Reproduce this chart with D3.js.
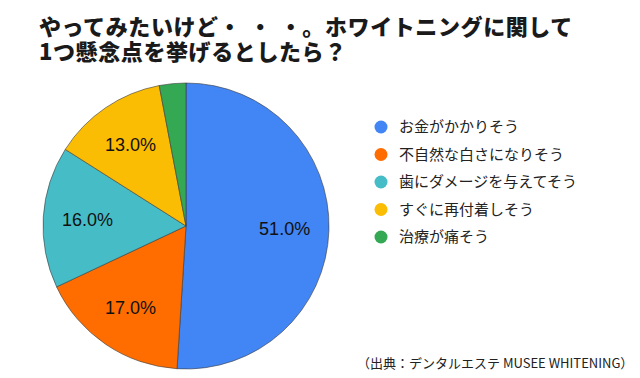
<!DOCTYPE html>
<html><head><meta charset="utf-8">
<script src="https://cdn.jsdelivr.net/npm/d3@7"></script>
<style>
html,body{margin:0;padding:0;background:#fff;}
svg{display:block;}
</style></head>
<body>
<svg id="chart" width="640" height="378"></svg>
<script>
const titleLines = ["やってみたいけど・\u2004・\u2004・。ホワイトニングに関して", "1つ懸念点を挙げるとしたら？"];
const categories = ["お金がかかりそう", "不自然な白さになりそう", "歯にダメージを与えてそう", "すぐに再付着しそう", "治療が痛そう"];
const values = [51, 17, 16, 13, 3];
const colors = ["#4285F4", "#FF6D01", "#46BDC6", "#FBBC04", "#34A853"];
const sourceText = "（出典：デンタルエステ MUSEE WHITENING）";

const svg = d3.select("#chart");
const W = 640, H = 378;
svg.append("rect").attr("width", W).attr("height", H).attr("fill", "#fff");

// Title
svg.append("g").selectAll("text").data(titleLines).join("text")
  .attr("x", 39).attr("y", (d, i) => 35 + i * 24.5)
  .attr("font-family", "'Noto Sans CJK JP', sans-serif")
  .attr("font-weight", 900).attr("font-size", 22).attr("letter-spacing", 0.6)
  .attr("fill", "#1a1a1a")
  .text(d => d);

// Pie
const cx = 186, cy = 226, R = 143;
const pie = d3.pie().sort(null).value(d => d);
const arcs = pie(values);
const arc = d3.arc().innerRadius(0).outerRadius(R);
const labelArc = d3.arc().innerRadius(R * 0.69).outerRadius(R * 0.69);
const g = svg.append("g").attr("transform", `translate(${cx},${cy})`);
g.selectAll("path").data(arcs).join("path")
  .attr("d", arc).attr("fill", (d, i) => colors[i])
  .attr("stroke", "#3a3a3a").attr("stroke-width", 0.6).attr("stroke-linejoin", "round");
g.selectAll("text").data(arcs.filter(d => d.data >= 5)).join("text")
  .attr("transform", d => `translate(${labelArc.centroid(d)})`)
  .attr("text-anchor", "middle").attr("dy", "0.35em")
  .attr("font-family", "'Liberation Sans', Arial, sans-serif").attr("font-size", 18).attr("fill", "#111")
  .text(d => d3.format(".1f")(d.data) + "%");

// Legend
const lg = svg.append("g");
const items = lg.selectAll("g").data(categories).join("g")
  .attr("transform", (d, i) => `translate(381, ${127 + i * 27.5})`);
items.append("circle").attr("r", 6.5).attr("fill", (d, i) => colors[i]);
items.append("text").attr("x", 18).attr("dy", "0.35em")
  .attr("font-family", "'Noto Sans CJK JP', sans-serif").attr("font-size", 15).attr("fill", "#222")
  .text(d => d);

// Source
svg.append("text").attr("x", 357).attr("y", 363).attr("dy", "0.35em")
  .attr("font-family", "'Noto Sans CJK JP', sans-serif").attr("font-size", 13).attr("fill", "#222")
  .text(sourceText);
</script>
</body></html>
